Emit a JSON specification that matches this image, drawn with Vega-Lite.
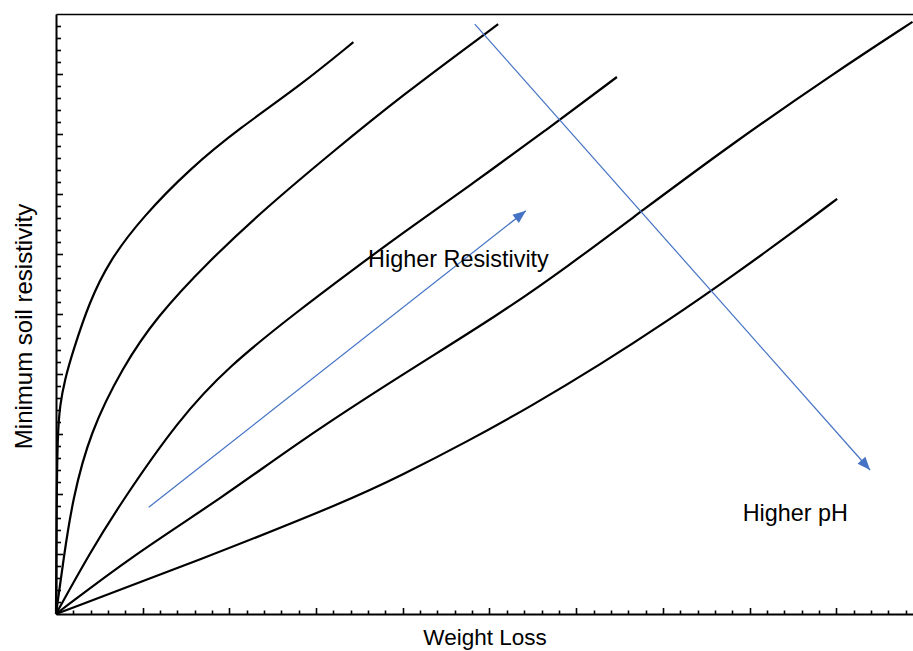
{
  "$schema": "https://vega.github.io/schema/vega-lite/v6.json",
  "width": 857,
  "height": 600,
  "autosize": {"type": "none"},
  "padding": {"left": 56, "top": 14, "right": 0, "bottom": 37},
  "config": {
    "view": {"stroke": null},
    "font": "Liberation Sans",
    "axis": {
      "grid": false,
      "labels": false,
      "domainColor": "#000000",
      "domainWidth": 2,
      "tickColor": "#000000",
      "tickWidth": 1.6,
      "titleFont": "Liberation Sans",
      "titleFontWeight": "normal",
      "titleColor": "#000000"
    }
  },
  "datasets": {
    "curves": [
      {"curve": "A", "x": 0, "y": 0},
      {"curve": "A", "x": 0.005, "y": 1.5},
      {"curve": "A", "x": 0.017, "y": 3.02},
      {"curve": "A", "x": 0.046, "y": 3.48},
      {"curve": "A", "x": 0.1, "y": 3.9},
      {"curve": "A", "x": 0.2, "y": 4.4},
      {"curve": "A", "x": 0.38, "y": 5.18},
      {"curve": "A", "x": 0.61, "y": 5.88},
      {"curve": "A", "x": 1.0, "y": 6.62},
      {"curve": "A", "x": 1.55, "y": 7.43},
      {"curve": "A", "x": 2.12, "y": 8.1},
      {"curve": "A", "x": 2.81, "y": 8.8},
      {"curve": "A", "x": 3.43, "y": 9.53},
      {"curve": "B", "x": 0, "y": 0},
      {"curve": "B", "x": 0.09, "y": 0.95},
      {"curve": "B", "x": 0.19, "y": 1.9},
      {"curve": "B", "x": 0.39, "y": 3.02},
      {"curve": "B", "x": 0.77, "y": 4.12},
      {"curve": "B", "x": 1.16, "y": 4.95},
      {"curve": "B", "x": 1.74, "y": 5.85},
      {"curve": "B", "x": 2.43, "y": 6.78},
      {"curve": "B", "x": 3.19, "y": 7.7},
      {"curve": "B", "x": 3.97, "y": 8.62},
      {"curve": "B", "x": 5.1, "y": 9.83},
      {"curve": "C", "x": 0, "y": 0},
      {"curve": "C", "x": 0.39, "y": 1.02},
      {"curve": "C", "x": 0.77, "y": 1.9},
      {"curve": "C", "x": 1.41, "y": 3.23},
      {"curve": "C", "x": 1.98, "y": 4.12},
      {"curve": "C", "x": 2.81, "y": 5.07},
      {"curve": "C", "x": 3.39, "y": 5.7},
      {"curve": "C", "x": 3.97, "y": 6.32},
      {"curve": "C", "x": 4.81, "y": 7.18},
      {"curve": "C", "x": 5.64, "y": 8.05},
      {"curve": "C", "x": 6.47, "y": 8.95},
      {"curve": "D", "x": 0, "y": 0},
      {"curve": "D", "x": 0.89, "y": 0.98},
      {"curve": "D", "x": 1.93, "y": 1.95},
      {"curve": "D", "x": 2.81, "y": 2.88},
      {"curve": "D", "x": 3.97, "y": 3.97},
      {"curve": "D", "x": 5.12, "y": 5.0},
      {"curve": "D", "x": 5.89, "y": 5.78},
      {"curve": "D", "x": 6.74, "y": 6.7},
      {"curve": "D", "x": 7.81, "y": 7.85},
      {"curve": "D", "x": 8.96, "y": 9.0},
      {"curve": "D", "x": 9.88, "y": 9.87},
      {"curve": "E", "x": 0, "y": 0},
      {"curve": "E", "x": 1.66, "y": 0.9},
      {"curve": "E", "x": 3.39, "y": 1.9},
      {"curve": "E", "x": 3.97, "y": 2.3},
      {"curve": "E", "x": 4.74, "y": 2.87},
      {"curve": "E", "x": 5.5, "y": 3.48},
      {"curve": "E", "x": 6.27, "y": 4.15},
      {"curve": "E", "x": 7.05, "y": 4.88},
      {"curve": "E", "x": 7.81, "y": 5.64},
      {"curve": "E", "x": 8.58, "y": 6.45},
      {"curve": "E", "x": 9.01, "y": 6.92}
    ],
    "arrows": [
      {"arrow": "resistivity", "part": "tail", "x": 1.07, "y": 1.78},
      {"arrow": "resistivity", "part": "head", "x": 5.42, "y": 6.72},
      {"arrow": "ph", "part": "tail", "x": 4.83, "y": 9.83},
      {"arrow": "ph", "part": "head", "x": 9.39, "y": 2.4}
    ],
    "labels": [
      {"label": "Higher Resistivity", "x": 3.6, "y": 5.78},
      {"label": "Higher pH", "x": 7.92, "y": 1.55}
    ]
  },
  "layer": [
    {
      "data": {"name": "curves"},
      "mark": {"type": "line", "color": "#000000", "strokeWidth": 2.2, "interpolate": "basis"},
      "encoding": {
        "x": {
          "field": "x", "type": "quantitative",
          "scale": {"domain": [0, 9.885], "nice": false, "zero": false},
          "axis": {
            "orient": "bottom", "title": "Weight Loss", "titleFontSize": 22.5, "titlePadding": 12,
            "tickSize": -4,
            "values": [0.2,0.4,0.6,0.8,1.2,1.4,1.6,1.8,2.2,2.4,2.6,2.8,3.2,3.4,3.6,3.8,4.2,4.4,4.6,4.8,5.2,5.4,5.6,5.8,6.2,6.4,6.6,6.8,7.2,7.4,7.6,7.8,8.2,8.4,8.6,8.8,9.2,9.4,9.6,9.8]
          }
        },
        "y": {
          "field": "y", "type": "quantitative",
          "scale": {"domain": [0, 10], "nice": false, "zero": false},
          "axis": {
            "orient": "left", "title": "Minimum soil resistivity", "titleFontSize": 24, "titlePadding": 19,
            "titleY": 312,
            "tickSize": -4.5,
            "values": [0.2,0.4,0.6,0.8,1.2,1.4,1.6,1.8,2.2,2.4,2.6,2.8,3.2,3.4,3.6,3.8,4.2,4.4,4.6,4.8,5.2,5.4,5.6,5.8,6.2,6.4,6.6,6.8,7.2,7.4,7.6,7.8,8.2,8.4,8.6,8.8,9.2,9.4,9.6,9.8]
          }
        },
        "detail": {"field": "curve", "type": "nominal"}
      }
    },
    {
      "data": {"name": "arrows"},
      "mark": {"type": "line", "color": "#4472C4", "strokeWidth": 1.2},
      "encoding": {
        "x": {
          "field": "x", "type": "quantitative",
          "scale": {"domain": [0, 9.885], "nice": false, "zero": false},
          "axis": {"orient": "bottom", "title": null, "domain": false, "tickSize": -6.5, "values": [1,2,3,4,5,6,7,8,9]}
        },
        "y": {
          "field": "y", "type": "quantitative",
          "scale": {"domain": [0, 10], "nice": false, "zero": false},
          "axis": {"orient": "left", "title": null, "domain": false, "tickSize": -6.5, "values": [1,2,3,4,5,6,7,8,9]}
        },
        "detail": {"field": "arrow", "type": "nominal"}
      }
    },
    {
      "data": {"name": "arrows"},
      "transform": [{"filter": "datum.arrow === 'resistivity' && datum.part === 'head'"}],
      "mark": {"type": "point", "shape": "M0,0L-0.4,1L0.4,1Z", "filled": true, "color": "#4472C4", "opacity": 1, "size": 676, "angle": 52},
      "encoding": {
        "x": {
          "field": "x", "type": "quantitative",
          "scale": {"domain": [0, 9.885], "nice": false, "zero": false},
          "axis": {"orient": "top", "title": null, "ticks": false, "domainWidth": 1.6}
        },
        "y": {
          "field": "y", "type": "quantitative",
          "scale": {"domain": [0, 10], "nice": false, "zero": false},
          "axis": null
        }
      }
    },
    {
      "data": {"name": "arrows"},
      "transform": [{"filter": "datum.arrow === 'ph' && datum.part === 'head'"}],
      "mark": {"type": "point", "shape": "M0,0L-0.4,1L0.4,1Z", "filled": true, "color": "#4472C4", "opacity": 1, "size": 676, "angle": 138.5},
      "encoding": {
        "x": {"field": "x", "type": "quantitative", "scale": {"domain": [0, 9.885], "nice": false, "zero": false}, "axis": null},
        "y": {"field": "y", "type": "quantitative", "scale": {"domain": [0, 10], "nice": false, "zero": false}, "axis": null}
      }
    },
    {
      "data": {"name": "labels"},
      "mark": {"type": "text", "align": "left", "baseline": "alphabetic", "fontSize": 23.4, "font": "Liberation Sans", "color": "#000000"},
      "encoding": {
        "x": {"field": "x", "type": "quantitative", "scale": {"domain": [0, 9.885], "nice": false, "zero": false}, "axis": null},
        "y": {"field": "y", "type": "quantitative", "scale": {"domain": [0, 10], "nice": false, "zero": false}, "axis": null},
        "text": {"field": "label", "type": "nominal"}
      }
    }
  ],
  "resolve": {"axis": {"x": "independent", "y": "independent"}}
}
